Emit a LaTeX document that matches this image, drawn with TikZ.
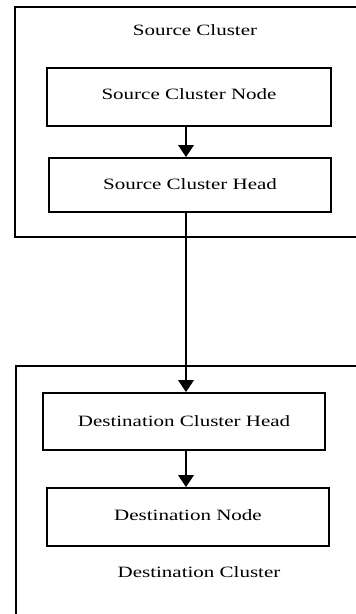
\documentclass[tikz,border=0pt]{standalone}
\usepackage{fontspec}
\setmainfont{Liberation Serif}
\usetikzlibrary{arrows.meta}
\newcommand{\wtext}[1]{\scalebox{1.4}[1.05]{#1}}
\tikzset{
  box/.style={draw, line width=1.6pt, minimum width=282pt, inner sep=0pt, font=\fontsize{15}{18}\selectfont},
  cluster/.style={draw, line width=1.6pt},
  lbl/.style={inner sep=0pt, font=\fontsize{15}{18}\selectfont},
  arr/.style={line width=2.7pt, -{Triangle[width=15pt,length=12pt]}}
}
\begin{document}
\begin{tikzpicture}[x=1pt,y=-1pt]
\useasboundingbox (0,0) rectangle (356,614);
\clip (0,0) rectangle (356,614);
\fill[white] (0,0) rectangle (356,614);
% clusters
\draw[cluster] (15,7) rectangle (372,237);
\draw[cluster] (16,366) rectangle (372,630);
\node[lbl] (sclab) at (195,30) {\wtext{Source Cluster}};
\node[lbl] (dclab) at (199,572) {\wtext{Destination Cluster}};
% boxes
\node[box, minimum width=284pt, minimum height=58pt] (scn) at (189,97) {\raisebox{6pt}{\wtext{Source Cluster Node}}};
\node[box, minimum height=54pt] (sch) at (190,185) {\raisebox{2pt}{\wtext{Source Cluster Head}}};
\node[box, minimum height=57pt] (dch) at (184,421.5) {\wtext{Destination Cluster Head}\hspace{10pt}};
\node[box, minimum height=58pt] (dn) at (188,517) {\raisebox{3pt}{\wtext{Destination Node}}};
% arrows
\draw[arr] ([xshift=-3pt]scn.south) -- ([xshift=-3pt]scn.south |- sch.north);
\draw[arr] ([xshift=-4pt]sch.south) -- ([xshift=-4pt]sch.south |- dch.north);
\draw[arr] ([xshift=2pt]dch.south) -- ([xshift=2pt]dch.south |- dn.north);
\end{tikzpicture}
\end{document}
